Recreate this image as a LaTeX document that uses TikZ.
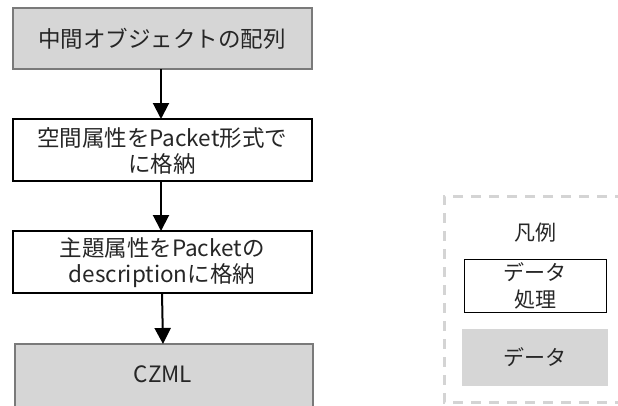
\documentclass[tikz,border=0pt]{standalone}
\usepackage{fontspec}
\setmainfont{Noto Sans CJK JP}
\usetikzlibrary{arrows.meta}
\definecolor{boxgray}{HTML}{D6D6D6}
\definecolor{edgegray}{HTML}{7A7A7A}
\definecolor{dashgray}{HTML}{D4D4D4}
\tikzset{
  databox/.style={draw=edgegray, line width=2pt, fill=boxgray},
  procbox/.style={draw=black, line width=2pt, fill=white},
  flow/.style={line width=2pt, -{Triangle[width=16pt,length=16pt]}},
  lbl/.style={font=\fontsize{22.5}{26}\selectfont, align=center, text=black!85, inner sep=0pt},
  legendlbl/.style={lbl, font=\fontsize{21}{27}\selectfont},
}
\begin{document}
\begin{tikzpicture}[x=1pt,y=-1pt]
\useasboundingbox (0,0) rectangle (618,405);
\clip (0,0) rectangle (618,405);

% flow boxes
\draw[databox] (13,8) rectangle (312,69);
\node[lbl] (n1) at (162,38.5) {中間オブジェクトの配列};
\coordinate (n1s) at (161,69);

\draw[procbox] (13,119) rectangle (312,181);
\node[lbl] (n2) at (162,151) {空間属性をPacket形式で\\に格納};
\coordinate (n2n) at (161,119);
\coordinate (n2s) at (161,181);

\draw[procbox] (13,231) rectangle (312,293);
\node[lbl] (n3) at (162,263) {主題属性をPacketの\\descriptionに格納};
\coordinate (n3n) at (161,231);
\coordinate (n3s) at (162,293);

\draw[databox] (15,344) rectangle (313,412);
\node[lbl] (n4) at (163,374) {CZML};
\coordinate (n4n) at (163,344);

% connectors
\draw[flow] (n1s) -- (n2n);
\draw[flow] (n2s) -- (n3n);
\draw[flow] (n3s) -- (n4n);

% legend
\draw[dashgray, line width=3pt, dash pattern=on 10pt off 8pt] (625,196) -- (444,196) -- (444,402) -- (625,402);
\node[legendlbl] (lg) at (535,233) {凡例};
\draw[black, line width=1pt, fill=white] (464,259) rectangle (606,312);
\node[legendlbl] (lp) at (535,285.5) {データ\\処理};
\fill[boxgray] (462,329) rectangle (608,386);
\node[legendlbl] (ld) at (535,357) {データ};
\end{tikzpicture}
\end{document}
